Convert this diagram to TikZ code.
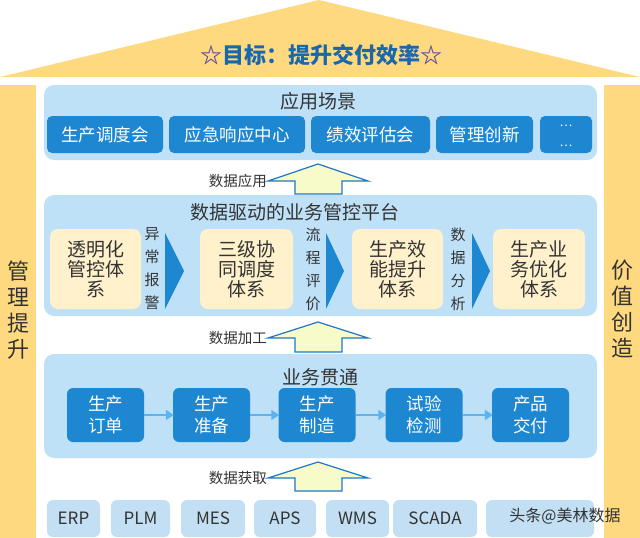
\documentclass[tikz,border=0pt]{standalone}
\usepackage{fontspec}
\setmainfont{Noto Sans CJK SC}
\usetikzlibrary{arrows.meta}

\definecolor{roofyel}{HTML}{FFD97F}
\definecolor{panelblue}{HTML}{BFE1F7}
\definecolor{srcblue}{HTML}{C2DFF3}
\definecolor{boxblue}{HTML}{1E87D1}
\definecolor{creambox}{HTML}{FFF1CC}
\definecolor{titleblue}{HTML}{1768AC}
\definecolor{starpurple}{HTML}{5B4A9E}
\definecolor{arrowfill}{HTML}{F7FAC9}
\definecolor{arrowline}{HTML}{1F78C6}
\definecolor{flowarrow}{HTML}{5CB3F0}
\definecolor{txtgray}{HTML}{333333}

% up arrow: name, apex y, head base y, bottom y
\newcommand{\bigup}[4]{%
  \draw[bigarrow] (318,#2) -- (368,#3) -- (342,#3) -- (342,#4) -- (295,#4) -- (295,#3) -- (268,#3) -- cycle;
  \coordinate (#1) at (268,#3);}

\begin{document}
\begin{tikzpicture}[x=1pt,y=-1pt,
    panel/.style={fill=panelblue,rounded corners=10pt,inner sep=0pt},
    paneltitle/.style={text=txtgray,font=\fontsize{19}{22}\selectfont},
    scenebox/.style={fill=boxblue,rounded corners=5pt,text=white,minimum height=37pt,inner sep=0pt,align=center,font=\fontsize{17.5}{12}\selectfont},
    sysbox/.style={fill=creambox,rounded corners=8pt,minimum height=80pt,inner sep=0pt,align=center,text=txtgray,font=\fontsize{19}{20}\selectfont},
    vlabel/.style={align=center,text=txtgray,inner sep=0pt,font=\fontsize{15}{23}\selectfont},
    flowbox/.style={fill=boxblue,rounded corners=6pt,text=white,minimum width=77pt,minimum height=54pt,inner sep=0pt,align=center,font=\fontsize{17.5}{22}\selectfont},
    srcbox/.style={fill=srcblue,rounded corners=6pt,text=txtgray,minimum height=37pt,inner sep=0pt,font=\fontsize{17}{20}\selectfont},
    pillartext/.style={align=center,text=txtgray,font=\fontsize{22}{26}\selectfont},
    bigarrow/.style={draw=arrowline,fill=arrowfill,line width=1.2pt,line join=miter},
    arrlabel/.style={anchor=east,text=txtgray,inner sep=1pt,font=\fontsize{14.5}{16}\selectfont},
    flowarr/.style={draw=flowarrow,line width=2.5pt,-{Triangle[length=8pt,width=10pt]},shorten >=-1pt},
    chev/.style={fill=boxblue}]
\useasboundingbox (0,0) rectangle (640,538);

\fill[roofyel] (0,77) -- (319,0) -- (640,77) -- cycle;
\node[text=titleblue,font=\fontsize{22}{24}\selectfont\bfseries] (goal) at (321,55) {{\color{starpurple}☆}目标：提升交付效率{\color{starpurple}☆}};

\fill[roofyel] (0,85) rectangle (36,538);
\fill[roofyel] (604,85) rectangle (640,538);
\node[pillartext] (mgmt) at (18,310) {管\\理\\提\\升};
\node[pillartext] (value) at (622,309) {价\\值\\创\\造};

\node[panel,minimum width=553pt,minimum height=75pt] (scene) at (320.5,122.5) {};
\node[paneltitle] (scenetitle) at (318,101) {应用场景};
\node[scenebox,minimum width=116pt] (s1) at (105,134.5) {生产调度会};
\node[scenebox,minimum width=136pt] (s2) at (237,134.5) {应急响应中心};
\node[scenebox,minimum width=119pt] (s3) at (370.5,134.5) {绩效评估会};
\node[scenebox,minimum width=97pt] (s4) at (484.5,134.5) {管理创新};
\node[scenebox,minimum width=52pt] (s5) at (566,134.5) {};
\node[text=white,inner sep=0pt,font=\fontsize{12}{14}\selectfont] (dots1) at (566,126) {⋯};
\node[text=white,inner sep=0pt,font=\fontsize{12}{14}\selectfont] (dots2) at (566,146) {⋯};

\bigup{useleft}{164}{181}{194}
\node[arrlabel] (use) at (useleft) {数据应用};

\node[panel,minimum width=553pt,minimum height=121pt] (platform) at (320.5,255.5) {};
\node[paneltitle] (platformtitle) at (295,212) {数据驱动的业务管控平台};
\node[sysbox,minimum width=91pt] (p1) at (95.5,269) {透明化\\管控体\\系};
\node[sysbox,minimum width=93pt] (p2) at (246.5,269) {三级协\\同调度\\体系};
\node[sysbox,minimum width=91pt] (p3) at (397.5,269) {生产效\\能提升\\体系};
\node[sysbox,minimum width=92pt] (p4) at (539,269) {生产业\\务优化\\体系};
\node[vlabel] (alarm) at (152,269) {异\\常\\报\\警};
\node[vlabel] (review) at (313,269) {流\\程\\评\\价};
\node[vlabel] (analysis) at (458,269) {数\\据\\分\\析};
\fill[chev] (165,233) -- (184,271) -- (165,309) -- cycle;
\fill[chev] (326,233) -- (344,271) -- (326,309) -- cycle;
\fill[chev] (472,233) -- (490,271) -- (472,309) -- cycle;

\bigup{procleft}{322}{338}{352}
\node[arrlabel] (proc) at (procleft) {数据加工};

\node[panel,minimum width=553pt,minimum height=104pt] (business) at (320.5,406) {};
\node[paneltitle] (businesstitle) at (320,377) {业务贯通};
\node[flowbox] (f1) at (105.5,415) {生产\\订单};
\node[flowbox] (f2) at (211.5,415) {生产\\准备};
\node[flowbox] (f3) at (317,415) {生产\\制造};
\node[flowbox] (f4) at (424,415) {试验\\检测};
\node[flowbox] (f5) at (530.5,415) {产品\\交付};
\draw[flowarr] (f1) -- (f2);
\draw[flowarr] (f2) -- (f3);
\draw[flowarr] (f3) -- (f4);
\draw[flowarr] (f4) -- (f5);

\bigup{getleft}{462}{478}{491}
\node[arrlabel] (get) at (getleft) {数据获取};

\node[srcbox,minimum width=53pt] (erp) at (73.5,518.5) {ERP};
\node[srcbox,minimum width=59pt] (plm) at (140.5,518.5) {PLM};
\node[srcbox,minimum width=64pt] (mes) at (213,518.5) {MES};
\node[srcbox,minimum width=62pt] (aps) at (285,518.5) {APS};
\node[srcbox,minimum width=63pt] (wms) at (357.5,518.5) {WMS};
\node[srcbox,minimum width=84pt] (scada) at (435,518.5) {SCADA};
\node[srcbox,minimum width=108pt] (other) at (540,518.5) {};
\node[text=txtgray,font=\fontsize{16}{18}\selectfont] (mark) at (565,516) {头条@美林数据};
\end{tikzpicture}
\end{document}
